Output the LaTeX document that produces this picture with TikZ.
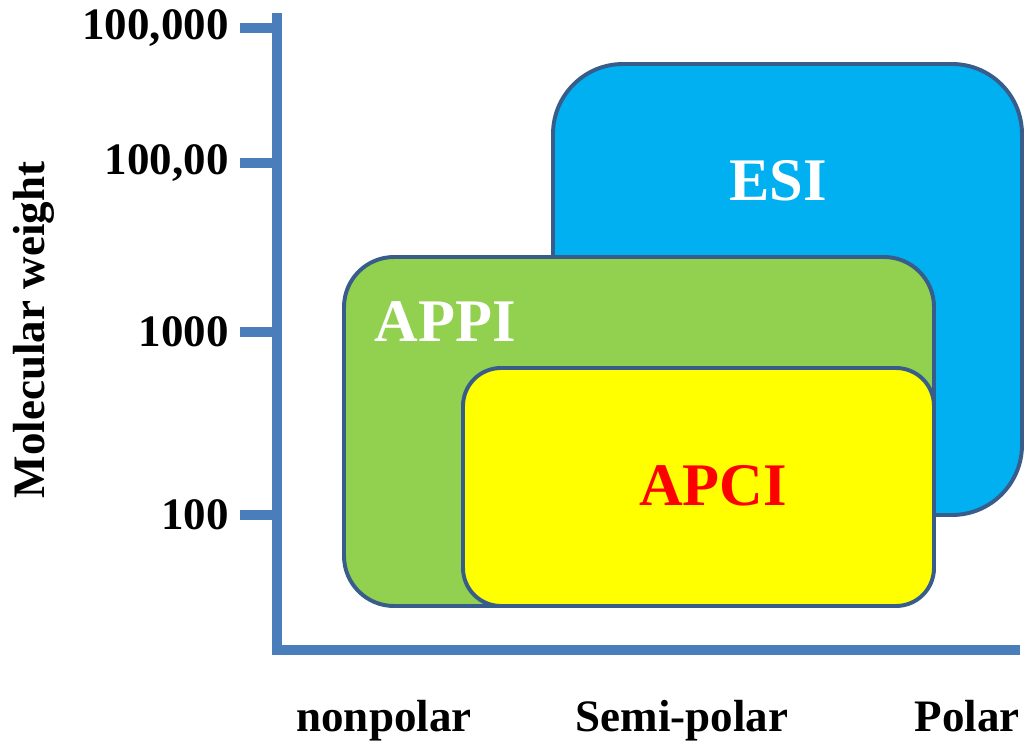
\documentclass[tikz,border=0pt]{standalone}
\usepackage{fontspec}
\setmainfont{Liberation Serif}
\usepackage{tikz}
\usetikzlibrary{positioning}
\definecolor{axisblue}{HTML}{4A7EBB}
\definecolor{edgeblue}{HTML}{385D8A}
\definecolor{esiblue}{HTML}{00B0F0}
\definecolor{appigreen}{HTML}{92D050}
\definecolor{apciyellow}{HTML}{FFFF00}

\begin{document}
\begin{tikzpicture}[x=0.025cm, y=-0.025cm,
    axisline/.style={line width=7pt, axisblue},
    region/.style={line width=2.8pt, edgeblue},
    ticklabel/.style={anchor=east, inner sep=0pt, font=\fontsize{32}{36}\selectfont\bfseries},
    axislabel/.style={inner sep=0pt, font=\fontsize{32}{36}\selectfont\bfseries},
    regionlabel/.style={inner sep=0pt, font=\fontsize{43}{48}\selectfont\bfseries}]
  \useasboundingbox (0,0) rectangle (1032,750);
  % Ionisation regions
  \draw[region, fill=esiblue, rounded corners=1.75cm] (553,64) rectangle (1022,515);
  \node[regionlabel, white] (esi) at (778,181) {ESI};
  \draw[region, fill=appigreen, rounded corners=1.25cm] (344,257) rectangle (934,606);
  \node[regionlabel, white] (appi) at (445,322) {APPI};
  \draw[region, fill=apciyellow, rounded corners=0.95cm] (463,368) rectangle (934,606);
  \node[regionlabel, red] (apci) at (713,486) {APCI};
  % Axes
  \coordinate (top) at (277,13);
  \coordinate (origin) at (277,650);
  \coordinate (right) at (1020,650);
  \draw[axisline] (top) -- (277,655);
  \draw[axisline] (272,650) -- (right);
  % Ticks and their values
  \foreach \ypos/\val/\name in {28/{100,000}/tA, 163/{100,00}/tB, 332/1000/tC, 515/100/tD} {
    \coordinate (\name) at (277,\ypos);
    \draw[axisline] (240,\ypos) -- (\name);
    \node[ticklabel] at (229,\ypos) {\val};
  }
  \node[axislabel, rotate=90] (ylabel) at (34,330) {Molecular weight};
  \node[axislabel, anchor=base] (nonpolar) at (384,731) {nonpolar};
  \node[axislabel, anchor=base] (semipolar) at (682,731) {Semi-polar};
  \node[axislabel, anchor=base] (polar) at (967,731) {Polar};
\end{tikzpicture}
\end{document}
